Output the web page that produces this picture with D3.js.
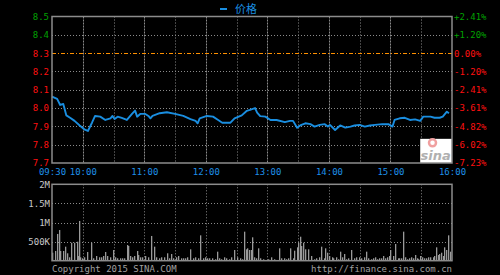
<!doctype html>
<html>
<head>
<meta charset="utf-8">
<title>价格</title>
<style>
  html, body { margin: 0; padding: 0; background: #000; }
  svg { display: block; }
  text { font-family: "DejaVu Sans Mono", "Liberation Mono", monospace; font-size: 9px; }
</style>
</head>
<body>
<div id="chart"></div>
<script src="https://cdn.jsdelivr.net/npm/d3@7"></script>
<script>
// 价格 (时间, 价格)
var times = ["09:30","09:35","09:38","09:41","09:44","09:48","09:52","09:57","10:02","10:05",
  "10:09","10:12","10:17","10:22","10:27","10:29","10:31","10:34","10:38","10:43",
  "10:48","10:51","10:53","10:56","11:01","11:04","11:06","11:08","11:15","11:22",
  "11:30","11:38","11:45","11:50","11:52","11:54","12:01","12:07","12:12","12:16",
  "12:24","12:28","12:35","12:40","12:43","12:48","12:50","12:53","12:58","13:03",
  "13:09","13:17","13:22","13:25","13:29","13:32","13:37","13:42","13:46","13:51",
  "13:56","13:59","14:01","14:06","14:11","14:16","14:21","14:25","14:30","14:35",
  "14:40","14:45","14:52","14:58","15:02","15:04","15:09","15:14","15:19","15:24",
  "15:29","15:32","15:39","15:43","15:48","15:51","15:55","15:57"];
var prices = [8.063,8.050,8.017,8.022,7.960,7.946,7.930,7.905,7.882,7.875,
  7.920,7.957,7.953,7.935,7.944,7.957,7.940,7.953,7.946,7.935,
  7.968,7.986,7.953,7.968,7.968,7.957,7.944,7.957,7.972,7.977,
  7.968,7.957,7.940,7.930,7.917,7.944,7.957,7.953,7.935,7.920,
  7.920,7.944,7.960,7.985,7.990,8.000,7.975,7.956,7.953,7.935,
  7.935,7.923,7.930,7.930,7.893,7.905,7.917,7.912,7.899,7.908,
  7.912,7.899,7.908,7.880,7.905,7.893,7.899,7.905,7.908,7.899,
  7.905,7.908,7.912,7.912,7.899,7.935,7.944,7.947,7.935,7.938,
  7.930,7.953,7.953,7.947,7.947,7.953,7.980,7.972];
var prevClose = 8.3;

// 成交量 (开盘后分钟, 千股)
var volMinutes = [0,3,5,7,8,11,13,15,17,19,21,24,25,26,27,29,31,34,38,40,
  43,46,48,50,52,54,57,59,61,63,66,68,70,73,74,76,78,80,83,84,
  86,88,91,94,97,99,101,104,106,109,112,114,116,118,121,123,126,128,130,132,
  135,137,139,142,144,147,149,151,153,156,159,161,163,165,168,170,173,175,177,180,
  183,185,187,189,190,192,194,195,197,199,201,203,206,208,211,214,216,221,223,226,
  228,230,232,235,236,239,240,242,243,245,247,250,253,255,257,260,262,265,266,268,
  270,273,274,277,279,281,283,285,287,289,292,294,296,299,301,304,306,308,311,313,
  315,317,319,321,323,325,327,329,330,332,334,337,338,340,342,344,346,348,350,352,
  354,356,357,359,361,363,365,367,369,371,372,374,376,377,379,381,382,384,386,388];
var volumes = [209,254,700,803,254,254,367,194,89,471,471,497,123,1040,89,63,89,228,471,63,
  123,89,89,123,228,123,89,280,89,63,63,63,63,411,385,123,89,123,254,149,
  89,89,123,89,647,367,89,63,89,89,194,63,175,63,89,123,63,63,63,89,
  298,63,89,63,664,63,89,63,63,63,37,236,63,37,89,63,37,89,280,89,
  63,37,760,298,324,280,280,612,89,63,324,63,37,12,37,89,37,324,63,63,
  37,63,324,63,262,350,471,628,385,471,298,298,123,37,63,89,367,63,324,209,
  123,89,63,89,37,236,89,175,37,63,280,63,89,89,63,89,236,63,37,63,
  89,37,63,63,123,63,89,123,280,123,437,63,63,63,760,89,37,63,89,63,
  149,63,37,123,89,63,63,89,89,89,123,350,149,175,209,123,350,280,664,236];

// 刻度
var timeLabels = ["09:30","10:00","11:00","12:00","13:00","14:00","15:00","16:00"];
var priceTicks = [8.5, 8.4, 8.3, 8.2, 8.1, 8.0, 7.9, 7.8, 7.7];
var pctLabels = ["+2.41%","+1.20%","0.00%","-1.20%","-2.41%","-3.61%","-4.82%","-6.02%","-7.23%"];
var volTicks = [2000, 1500, 1000, 500];
var volLabels = ["2M", "1.5M", "1M", "500K"];

var W = 500, H = 275;
var left = 52, right = 452;
var pTop = 16.5, pBottom = 163;
var vTop = 184.3, vBottom = 260.7;

function toMin(t) {
  var p = t.split(":");
  return (+p[0]) * 60 + (+p[1]) - 570;
}

var x = d3.scaleLinear().domain([0, 390]).range([left, right]);
var y = d3.scaleLinear().domain([7.7, 8.5]).range([pBottom, pTop]);
var yv = d3.scaleLinear().domain([0, 2000]).range([vBottom, vTop]);

var svg = d3.select("#chart").append("svg").attr("width", W).attr("height", H);

var halfHours = d3.range(30, 390, 30);

// 价格格线
var grid = svg.append("g");
grid.selectAll(".vg").data(halfHours).enter().append("line")
  .attr("x1", function(d) { return Math.round(x(d)) + 0.5; })
  .attr("x2", function(d) { return Math.round(x(d)) + 0.5; })
  .attr("y1", pTop).attr("y2", pBottom)
  .attr("stroke", "#8a8a8a").attr("stroke-width", 1)
  .attr("stroke-dasharray", function(d) { return d % 60 === 30 ? "2,1" : "1,2"; });
grid.selectAll(".hg").data(priceTicks.slice(1, -1).filter(function(d) { return d !== prevClose; })).enter().append("line")
  .attr("x1", left).attr("x2", right)
  .attr("y1", function(d) { return Math.round(y(d)) + 0.5; })
  .attr("y2", function(d) { return Math.round(y(d)) + 0.5; })
  .attr("stroke", "#8a8a8a").attr("stroke-dasharray", "1,2");
svg.append("line")
  .attr("x1", left).attr("x2", right)
  .attr("y1", Math.round(y(prevClose)) + 0.5).attr("y2", Math.round(y(prevClose)) + 0.5)
  .attr("stroke", "#ff9000").attr("stroke-dasharray", "4,2,1,2");

// 成交量格线
grid.selectAll(".vvg").data(halfHours).enter().append("line")
  .attr("x1", function(d) { return Math.round(x(d)) + 0.5; })
  .attr("x2", function(d) { return Math.round(x(d)) + 0.5; })
  .attr("y1", vTop).attr("y2", vBottom)
  .attr("stroke", "#8a8a8a").attr("stroke-dasharray", "1,2");
grid.selectAll(".vhg").data(volTicks.slice(1)).enter().append("line")
  .attr("x1", left).attr("x2", right)
  .attr("y1", function(d) { return Math.round(yv(d)) + 0.5; })
  .attr("y2", function(d) { return Math.round(yv(d)) + 0.5; })
  .attr("stroke", "#8a8a8a").attr("stroke-dasharray", "1,2");

// sina 标志
var logo = svg.append("g");
logo.append("rect").attr("x", x(359)).attr("y", y(7.832))
  .attr("width", right - x(359)).attr("height", pBottom - y(7.832))
  .attr("fill", "#ffffff");
logo.append("circle").attr("cx", x(371)).attr("cy", y(7.81)).attr("r", 3.5)
  .attr("fill", "none").attr("stroke", "#f0a0a0").attr("stroke-width", 2.5);
logo.append("text").attr("x", x(374)).attr("y", pBottom - 3)
  .attr("text-anchor", "middle")
  .style("font-family", "'DejaVu Sans', sans-serif").style("font-size", "13px")
  .style("font-weight", "bold").style("font-style", "italic")
  .attr("fill", "#b0b0b0").text("sina");

// 成交量柱
svg.append("g").selectAll("rect").data(volumes).enter().append("rect")
  .attr("x", function(d, i) { return Math.round(x(volMinutes[i])); })
  .attr("y", function(d) { return yv(d); })
  .attr("width", 1.3)
  .attr("height", function(d) { return vBottom - yv(d); })
  .attr("fill", "#9a9a9a");

// 价格线
var line = d3.line()
  .x(function(d, i) { return x(toMin(times[i])); })
  .y(function(d) { return y(d); });
svg.append("path").attr("d", line(prices))
  .attr("fill", "none").attr("stroke", "#1a8ee0").attr("stroke-width", 1.9)
  .attr("stroke-linejoin", "round");

// 边框
[[pTop, pBottom], [vTop, vBottom]].forEach(function(b) {
  svg.append("rect").attr("x", left).attr("y", b[0])
    .attr("width", right - left).attr("height", b[1] - b[0])
    .attr("fill", "none").attr("stroke", "#8c8c8c").attr("stroke-width", 1.5);
});

// 左轴 (价格)
var axL = svg.append("g").attr("transform", "translate(" + (left - 3) + ",0)")
  .call(d3.axisLeft(y).tickValues(priceTicks).tickSize(0).tickPadding(0).tickFormat(d3.format(".1f")));
axL.select(".domain").remove();
axL.selectAll("text")
  .attr("fill", function(d) { return d > prevClose ? "#00a000" : "#ff1010"; })
  .style("font-size", "9px");

// 右轴 (涨跌幅)
var axR = svg.append("g").attr("transform", "translate(" + (right + 2) + ",0)")
  .call(d3.axisRight(y).tickValues(priceTicks).tickSize(0).tickPadding(0)
    .tickFormat(function(d, i) { return pctLabels[i]; }));
axR.select(".domain").remove();
axR.selectAll("text")
  .attr("fill", function(d) { return d > prevClose ? "#00a000" : "#ff1010"; })
  .style("font-size", "9px");

// 时间轴
var axT = svg.append("g").attr("transform", "translate(0," + (pBottom + 5) + ")")
  .call(d3.axisBottom(x).tickValues(timeLabels.map(toMin)).tickSize(0).tickPadding(1)
    .tickFormat(function(d, i) { return timeLabels[i]; }));
axT.select(".domain").remove();
axT.selectAll("text").attr("fill", "#1e90e8").style("font-size", "9px");

// 成交量轴
var axV = svg.append("g").attr("transform", "translate(" + (left - 2) + ",0)")
  .call(d3.axisLeft(yv).tickValues(volTicks).tickSize(0).tickPadding(0)
    .tickFormat(function(d, i) { return volLabels[i]; }));
axV.select(".domain").remove();
axV.selectAll("text").attr("fill", "#c8c8c8").style("font-size", "9px");

// 图例
svg.append("line").attr("x1", 220).attr("x2", 227).attr("y1", 9).attr("y2", 9)
  .attr("stroke", "#1a8ee0").attr("stroke-width", 2);
svg.append("text").attr("x", 235).attr("y", 13)
  .style("font-family", "'Noto Sans CJK SC', sans-serif").style("font-size", "11px")
  .attr("fill", "#1a8ee0").text("价格");

// 版权
svg.append("text").attr("x", left).attr("y", 272).attr("fill", "#a0a0a0").text("Copyright 2015 SINA.COM");
svg.append("text").attr("x", right).attr("y", 272).attr("text-anchor", "end").attr("fill", "#a0a0a0").text("http://finance.sina.com.cn");
</script>
</body>
</html>
